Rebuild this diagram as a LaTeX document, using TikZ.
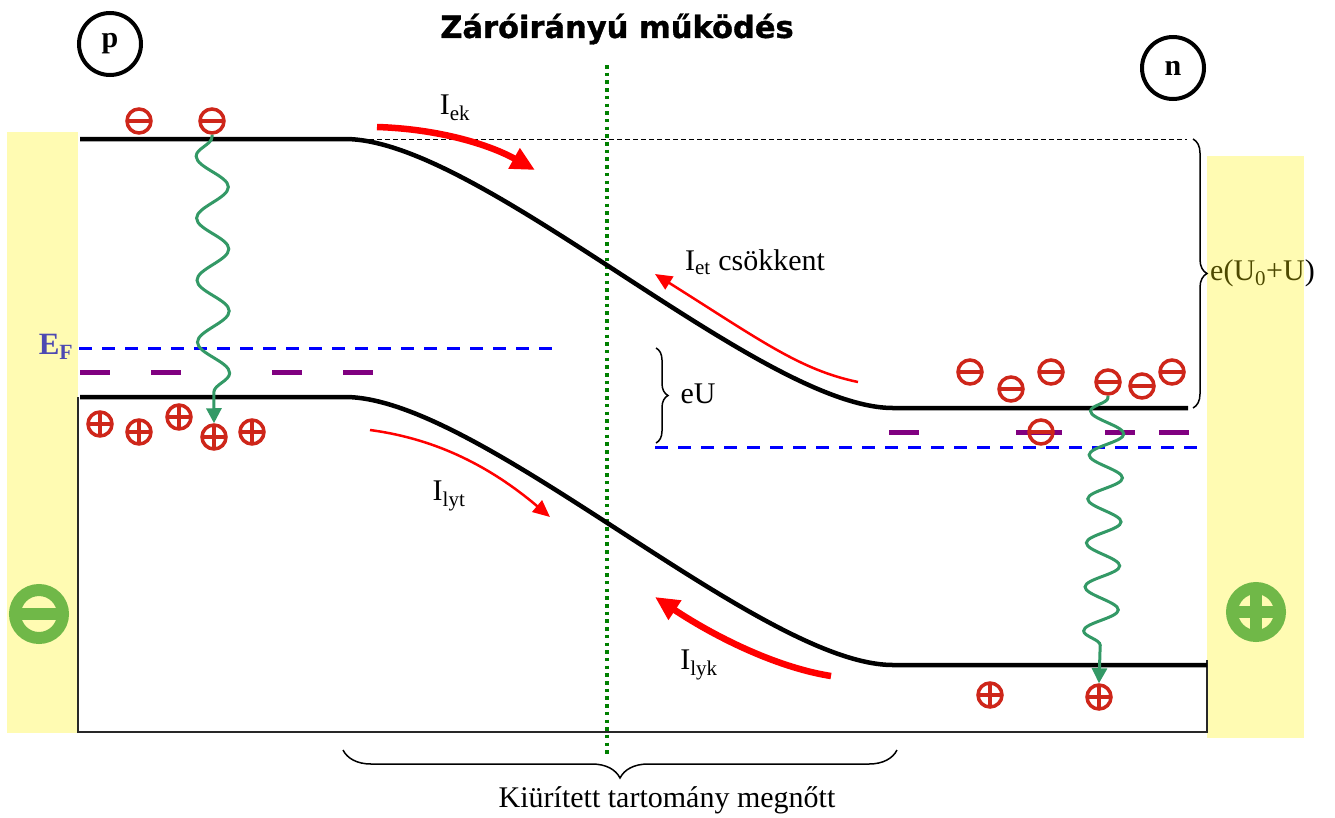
\documentclass[tikz,border=0pt]{standalone}
\usepackage{fontspec}
\setmainfont{Liberation Serif}
\newfontfamily\titlefont{DejaVu Sans}[BoldFeatures={FakeBold=1.2}]
\usetikzlibrary{decorations.pathmorphing,decorations.pathreplacing,arrows.meta}
\definecolor{symred}{RGB}{206,38,26}
\definecolor{wavegreen}{RGB}{51,153,102}
\definecolor{bargreen}{RGB}{112,184,72}
\definecolor{dotgreen}{RGB}{0,128,0}
\definecolor{lvlpurple}{RGB}{128,0,128}
\definecolor{boxgray}{RGB}{40,40,40}
\begin{document}
\begin{tikzpicture}[x=1pt,y=-1pt,
  band/.style={line width=4.5pt, black},
  boxline/.style={line width=1.5pt, boxgray},
  fermi/.style={line width=3pt, blue, dash pattern=on 13pt off 10pt},
  lvl/.style={line width=5pt, lvlpurple},
  elec/.style={circle, draw=symred, line width=3.5pt, minimum size=24pt, inner sep=0pt,
    path picture={\draw[symred,line width=3.5pt] (path picture bounding box.west) -- (path picture bounding box.east);}},
  hole/.style={circle, draw=symred, line width=3.5pt, minimum size=24pt, inner sep=0pt,
    path picture={\draw[symred,line width=3.5pt] (path picture bounding box.west) -- (path picture bounding box.east)
      (path picture bounding box.north) -- (path picture bounding box.south);}},
  bigminus/.style={circle, draw=bargreen, line width=12pt, minimum size=48pt, inner sep=0pt,
    path picture={\draw[bargreen,line width=12pt] (path picture bounding box.west) -- (path picture bounding box.east);}},
  bigplus/.style={circle, draw=bargreen, line width=12pt, minimum size=48pt, inner sep=0pt,
    path picture={\draw[bargreen,line width=12pt] (path picture bounding box.west) -- (path picture bounding box.east)
      (path picture bounding box.north) -- (path picture bounding box.south);}},
  sidelabel/.style={circle, draw=black, line width=4pt, minimum size=62pt, inner sep=0pt,
    font=\bfseries\fontsize{30}{36}\selectfont},
  lbl/.style={font=\fontsize{30}{36}\selectfont, inner sep=0pt},
  thickarrow/.style={red, line width=6.5pt, -{Triangle[length=24pt,width=22pt]}},
  thinarrow/.style={red, line width=2.5pt, -{Triangle[length=17pt,width=15pt]}},
  wave/.style={wavegreen, line width=3pt, decorate,
    decoration={snake, mirror, amplitude=#1, segment length=62pt, pre length=2pt, post length=30pt},
    -{Triangle[length=15pt,width=15pt]}},
  bracedeco/.style={decorate, decoration={brace, amplitude=#1}, line width=1.5pt, black}
]
\useasboundingbox (0,0) rectangle (1335,817);

% texts that lie under the translucent yellow bars
\node[font=\bfseries\fontsize{31}{36}\selectfont, text=blue, inner sep=0pt] (ef) at (56,347) {E\textsubscript{F}};
\node[lbl, anchor=west] (eu0) at (1210,273) {e(U\textsubscript{0}+U)};

% yellow electrode bars
\fill[yellow, fill opacity=0.3] (7,132) rectangle (78,733);
\fill[yellow, fill opacity=0.3] (1207,156) rectangle (1304,738);

% outline of the valence region
\draw[boxline] (78,397) -- (78,732) -- (1207,732) -- (1207,660);

% title and side labels
\node[font=\titlefont\bfseries\fontsize{30.5}{36}\selectfont, inner sep=0pt] (title) at (617,29) {Záróirányú működés};
\node[sidelabel] (pside) at (110,44) {p};
\node[sidelabel] (nside) at (1173,68) {n};

% depletion middle line
\draw[dotgreen, line width=3.5pt, dash pattern=on 3.5pt off 4.2pt] (607,65) -- (607,755);

% reference dashed level
\draw[black, line width=1pt, dash pattern=on 5pt off 3pt] (345,139) -- (1187,139);

% Fermi levels
\draw[fermi] (79,348) -- (560,348);
\draw[fermi] (655,447) -- (1207,447);

% acceptor / donor levels
\foreach \a in {80,151,272,343} \draw[lvl] (\a,372) -- ++(30,0);
\foreach \a in {889,1105,1159} \draw[lvl] (\a,432) -- ++(30,0);
\draw[lvl] (1016,432) -- (1062,432);

% bands
\coordinate (cbL) at (80,139);
\coordinate (cbA) at (345,139);
\coordinate (cbB) at (893,408);
\coordinate (cbR) at (1188,408);
\draw[band] (cbL) -- (cbA) .. controls (480,139) and (760,408) .. (cbB) -- (cbR);
\coordinate (vbL) at (80,397);
\coordinate (vbA) at (345,397);
\coordinate (vbB) at (893,665);
\coordinate (vbR) at (1207,665);
\draw[band] (vbL) -- (vbA) .. controls (480,397) and (760,665) .. (vbB) -- (vbR);

% braces
\draw[bracedeco=14pt] (1193,139) -- (1193,408);
\draw[bracedeco=12pt] (656,348) -- (656,443);
\draw[bracedeco=28pt] (897,750) -- (343,750);

% labels
\node[lbl] (ek) at (455,108) {I\textsubscript{ek}};
\node[lbl] (et) at (755,262) {I\textsubscript{et} csökkent};
\node[lbl] (lyt) at (449,496) {I\textsubscript{lyt}};
\node[lbl] (lyk) at (699,665) {I\textsubscript{lyk}};
\node[lbl] (eu) at (698,394) {eU};
\node[lbl] (depl) at (667,800) {Kiürített tartomány megnőtt};

% current arrows
\coordinate (ekS) at (377,127); \coordinate (ekE) at (535,170);
\draw[thickarrow] (ekS) .. controls (440,129) and (490,145) .. (ekE);
\coordinate (etS) at (858,382); \coordinate (etE) at (655,274);
\draw[thinarrow] (etS) .. controls (800,370) and (760,340) .. (etE);
\coordinate (lytS) at (370,430); \coordinate (lytE) at (550,517);
\draw[thinarrow] (lytS) .. controls (430,438) and (485,462) .. (lytE);
\coordinate (lykS) at (831,676); \coordinate (lykE) at (655,597);
\draw[thickarrow] (lykS) .. controls (780,668) and (720,640) .. (lykE);

% carriers
\node[elec] (e1) at (139,121) {};
\node[elec] (e2) at (212,121) {};
\node[hole] (h1) at (100,424) {};
\node[hole] (h2) at (139,432) {};
\node[hole] (h3) at (179,417) {};
\node[hole] (h4) at (214,437) {};
\node[hole] (h5) at (252,432) {};
\node[elec] (n1) at (970,372) {};
\node[elec] (n2) at (1011,389) {};
\node[elec] (n3) at (1051,372) {};
\node[elec] (n4) at (1108,382) {};
\node[elec] (n5) at (1142,386) {};
\node[elec] (n6) at (1172,372) {};
\node[elec] (n7) at (1041,432) {};
\node[hole] (q1) at (990,695) {};
\node[hole] (q2) at (1099,697) {};

% recombination waves
\draw[wave=16pt] (e2.south) -- (h4.north);
\draw[wave=17pt, decoration={segment length=44pt}] (n4.south) -- (q2.north);

% electrode charges
\node[bigminus] (gm) at (39,614) {};
\node[bigplus] (gp) at (1256,612) {};
\end{tikzpicture}
\end{document}
